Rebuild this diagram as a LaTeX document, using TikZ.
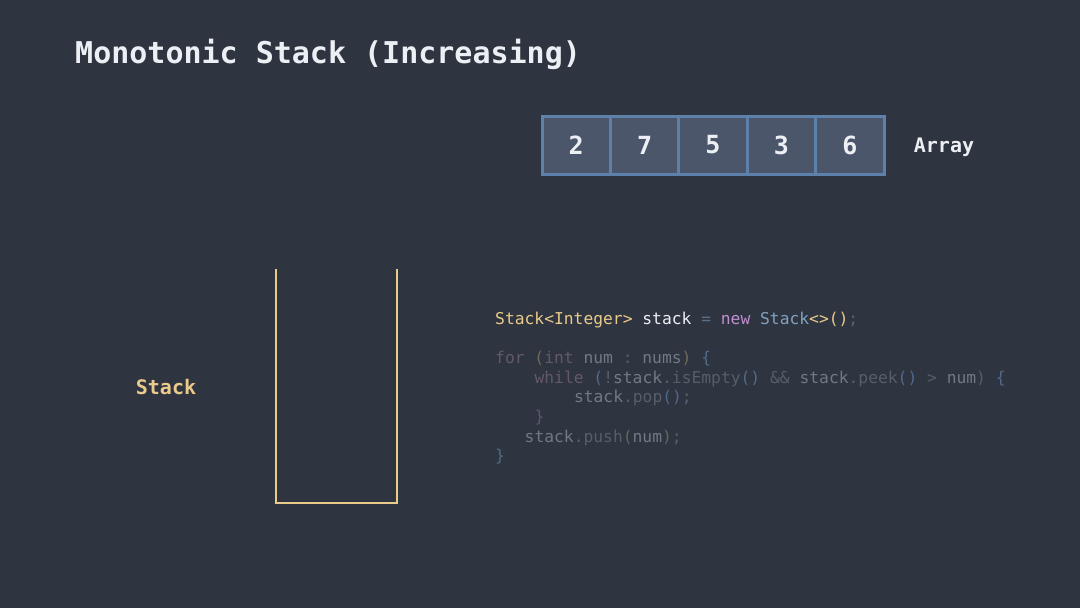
\documentclass[tikz,border=0pt]{standalone}
\usepackage{fontspec}
\setmonofont{DejaVu Sans Mono}
\definecolor{bg}{HTML}{2E3440}
\definecolor{fg}{HTML}{ECEFF4}
\definecolor{snow}{HTML}{D8DEE9}
\definecolor{yel}{HTML}{EBCB8B}
\definecolor{boxfill}{HTML}{4C566A}
\definecolor{boxline}{HTML}{5E81AC}
\definecolor{purp}{HTML}{B48EAD}
\definecolor{newpurp}{HTML}{C08FD0}
\definecolor{frost}{HTML}{81A1C1}
\definecolor{grn}{HTML}{A3BE8C}
\colorlet{opgray}{frost!55!bg}
\colorlet{semigray}{snow!28!bg}
% dimmed tokens
\colorlet{dkw}{purp!40!bg}
\colorlet{dyel}{yel!35!bg}
\colorlet{did}{snow!40!bg}
\colorlet{dfaint}{snow!24!bg}
\colorlet{dblue}{boxline!70!bg}
\colorlet{dgrn}{grn!40!bg}
\colorlet{dbrace}{boxline!45!purp!45!bg}
\tikzset{
  title/.style={font=\ttfamily\bfseries\fontsize{30}{36}\selectfont, text=fg, anchor=base west, inner sep=0pt},
  cell/.style={draw=boxline, line width=3pt, fill=boxfill, minimum width=68.4pt, minimum height=58pt, inner sep=0pt, outer sep=0pt, text=fg, font=\ttfamily\bfseries\fontsize{25}{30}\selectfont},
  lbl/.style={font=\ttfamily\bfseries\fontsize{20}{24}\selectfont, inner sep=0pt},
  code/.style={font=\ttfamily\fontsize{16.3}{19.7}\selectfont, anchor=base west, inner sep=0pt},
  container/.style={draw=yel, line width=2.5pt}
}
\begin{document}
\begin{tikzpicture}[x=1pt,y=-1pt]
\fill[bg] (0,0) rectangle (1080,608);
\useasboundingbox (0,0) rectangle (1080,608);

\node[title] (title) at (75,63) {Monotonic Stack (Increasing)};

% array
\node[cell] (a0) at (576.2,145) {2};
\node[cell] (a1) at (644.6,145) {7};
\node[cell] (a2) at (713.0,145) {5};
\node[cell] (a3) at (781.4,145) {3};
\node[cell] (a4) at (849.8,145) {6};
\node[lbl, text=fg] (arr) at (944,147) {Array};

% stack container
\coordinate (s1) at (276,269);
\coordinate (s2) at (276,503);
\coordinate (s3) at (397,503);
\coordinate (s4) at (397,269);
\draw[container] (s1) -- (s2) -- (s3) -- (s4);
\node[lbl, text=yel] (stk) at (166,387) {Stack};

% code
\node[code] (c1) at (495,324) {\textcolor{yel}{Stack<Integer>} \textcolor{fg}{stack} \textcolor{opgray}{=} \textcolor{newpurp}{new} \textcolor{frost}{Stack}\textcolor{yel}{<>()}\textcolor{semigray}{;}};
\node[code] (c2) at (495,363.4) {\textcolor{dkw}{for} \textcolor{dyel}{(}\textcolor{dkw}{int} \textcolor{did}{num} \textcolor{dfaint}{:} \textcolor{did}{nums}\textcolor{dyel}{)} \textcolor{dblue}{\{}};
\node[code] (c3) at (534.4,383.1) {\textcolor{dkw}{while} \textcolor{dblue}{(}\textcolor{dfaint}{!}\textcolor{did}{stack}\textcolor{dfaint}{.isEmpty}\textcolor{dblue}{()} \textcolor{dfaint}{\&\&} \textcolor{did}{stack}\textcolor{dfaint}{.peek}\textcolor{dblue}{()} \textcolor{dfaint}{>} \textcolor{did}{num}\textcolor{dfaint}{)} \textcolor{dblue}{\{}};
\node[code] (c4) at (573.8,402.8) {\textcolor{did}{stack}\textcolor{dfaint}{.pop}\textcolor{dblue}{()}\textcolor{dfaint}{;}};
\node[code] (c5) at (534.4,422.5) {\textcolor{dbrace}{\}}};
\node[code] (c6) at (524.5,442.2) {\textcolor{did}{stack}\textcolor{dfaint}{.push}\textcolor{dgrn}{(}\textcolor{did}{num}\textcolor{dgrn}{)}\textcolor{dfaint}{;}};
\node[code] (c7) at (495,461.9) {\textcolor{dblue}{\}}};
\end{tikzpicture}
\end{document}
